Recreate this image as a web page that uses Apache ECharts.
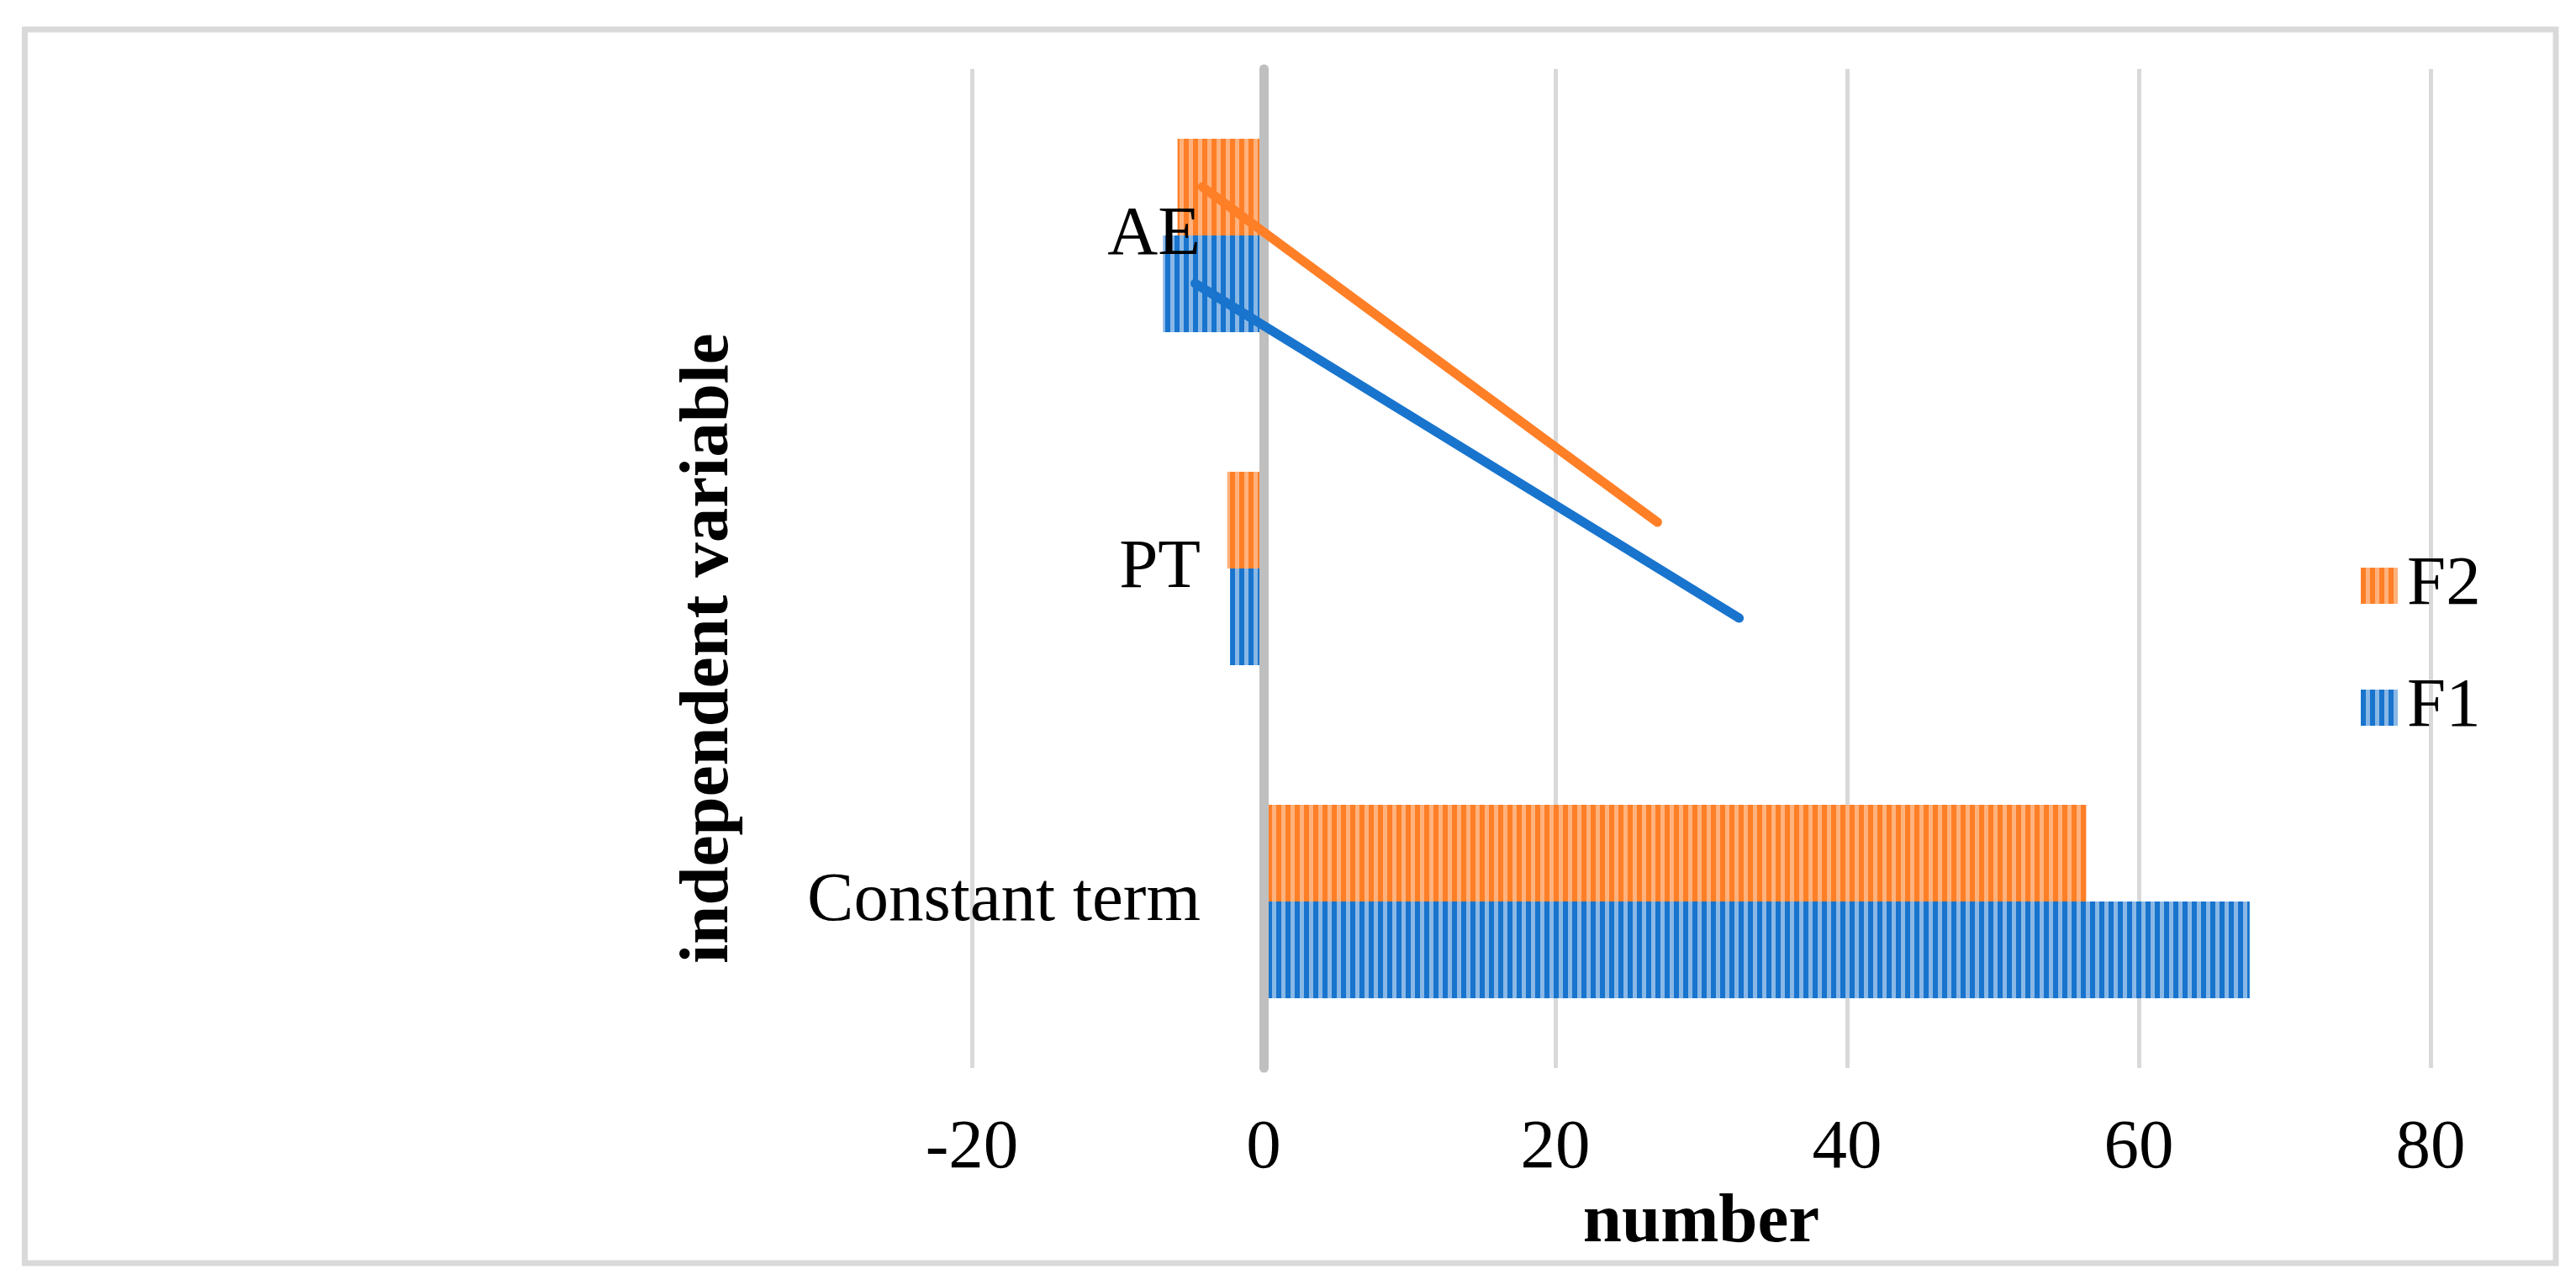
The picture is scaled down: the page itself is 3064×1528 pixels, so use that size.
<!DOCTYPE html>
<html>
<head>
<meta charset="utf-8">
<script src="https://cdn.jsdelivr.net/npm/echarts@6/dist/echarts.min.js"></script>
<style>
html,body{margin:0;padding:0;background:#fff;}
#chart{width:3064px;height:1528px;}
</style>
</head>
<body>
<div id="chart"></div>
<script>
// ---- data ----
var categories = ['Constant term', 'PT', 'AE'];
var valuesF1 = [67.6, -2.3, -6.9];
var valuesF2 = [56.4, -2.5, -5.9];
// trend lines: [x value, category position (0 = Constant term, 1 = PT, 2 = AE)]
var trendF1 = [[-4.7, 1.856], [32.6, 0.851]];
var trendF2 = [[-4.2, 2.146], [27.0, 1.139]];
var xTicks = { min: -20, max: 80, interval: 20 };

function stripes(base, light) {
  var c = document.createElement('canvas');
  c.width = 11; c.height = 11;
  var g = c.getContext('2d');
  g.fillStyle = light; g.fillRect(0, 0, 11, 11);
  g.fillStyle = base; g.fillRect(0, 0, 6, 11);
  return { image: c, repeat: 'repeat' };
}
var blue = '#1874cd', orange = '#ff7f27';
var bluePat = stripes(blue, '#8ab8e6');
var orangePat = stripes(orange, '#ffb27d');

var font = 'Liberation Serif';
var chart = echarts.init(document.getElementById('chart'));
chart.setOption({
  animation: false,
  backgroundColor: '#fff',
  textStyle: { fontFamily: font, color: '#000' },
  grid: { left: 1156, right: 173, top: 82, bottom: 258, containLabel: false },
  legend: {
    data: ['F2', 'F1'],
    orient: 'vertical',
    left: 2803, top: 650,
    itemWidth: 44, itemHeight: 43, itemGap: 62,
    icon: 'rect',
    textStyle: { fontFamily: font, fontSize: 83, color: '#000', padding: [0, 0, 0, 6] }
  },
  xAxis: {
    type: 'value',
    min: xTicks.min, max: xTicks.max, interval: xTicks.interval,
    axisLine: { show: false, onZero: false },
    axisTick: { show: false },
    splitLine: { lineStyle: { color: '#d9d9d9', width: 5 } },
    axisLabel: { fontFamily: font, fontSize: 83, color: '#000', margin: 55 },
    name: 'number',
    nameLocation: 'middle',
    nameGap: 130,
    nameTextStyle: { fontFamily: font, fontSize: 83, fontWeight: 'bold', color: '#000' }
  },
  yAxis: [{
    type: 'category',
    data: categories,
    z: 5,
    axisLine: { show: true, onZero: true, lineStyle: { color: '#bfbfbf', width: 11 } },
    axisTick: { show: false },
    axisLabel: { fontFamily: font, fontSize: 83, color: '#000', margin: -272 },
    splitLine: { show: false }
  }, {
    type: 'value',
    min: -0.5, max: 2.5,
    show: false,
    axisLine: { onZero: false },
    splitLine: { show: false }
  }],
  series: [{
    name: 'F2', type: 'bar', data: valuesF2,
    barWidth: 115, barGap: '0%',
    itemStyle: { color: orangePat }
  }, {
    name: 'F1', type: 'bar', data: valuesF1,
    barWidth: 115, barGap: '0%',
    itemStyle: { color: bluePat }
  }, {
    name: 'F2 trend', type: 'line', yAxisIndex: 1, data: trendF2,
    showSymbol: false, z: 6,
    lineStyle: { color: orange, width: 11, cap: 'round' }
  }, {
    name: 'F1 trend', type: 'line', yAxisIndex: 1, data: trendF1,
    showSymbol: false, z: 6,
    lineStyle: { color: blue, width: 11, cap: 'round' }
  }],
  graphic: [{
    type: 'rect', silent: true,
    shape: { x: 29.5, y: 35, width: 3010.5, height: 1467 },
    style: { fill: 'none', stroke: '#d9d9d9', lineWidth: 7 }
  }, {
    type: 'text', silent: true,
    x: 844, y: 771, rotation: Math.PI / 2,
    style: {
      text: 'independent variable',
      font: 'bold 83px "Liberation Serif"',
      fill: '#000',
      textAlign: 'center', textVerticalAlign: 'middle'
    }
  }]
});
</script>
</body>
</html>
